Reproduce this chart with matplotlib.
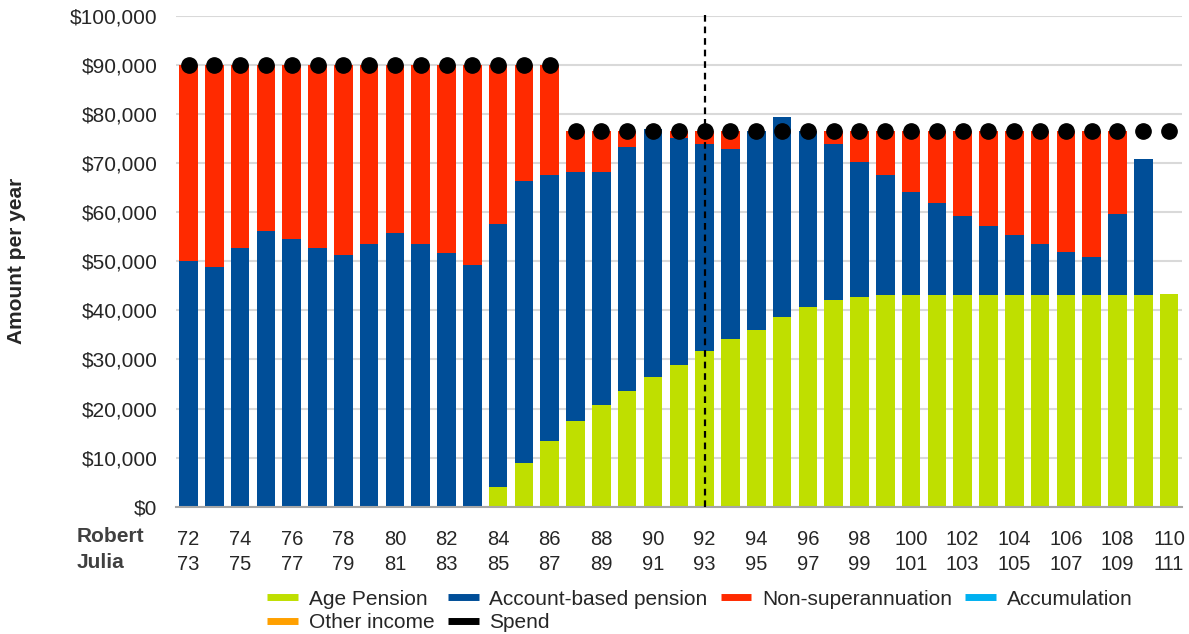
import matplotlib
matplotlib.use("Agg")
import matplotlib.pyplot as plt
from matplotlib.lines import Line2D
from matplotlib.ticker import FuncFormatter, MultipleLocator

plt.rcParams['font.family'] = ['Liberation Sans', 'DejaVu Sans']

robert_ages = list(range(72, 111))
julia_ages = [a + 1 for a in robert_ages]

age_pension = [0] * 12 + [4000, 8900, 13400, 17400, 20700, 23500, 26400, 28800,
                          31700, 34100, 36100, 38600, 40600, 42200, 42700] + [43100] * 11 + [43300]
account_based = [50000, 48800, 52800, 56100, 54500, 52800, 51200, 53600, 55700, 53600,
                 51600, 49200, 53700, 57400, 54100, 50900, 47600, 49700, 50600, 46400,
                 42300, 38700, 40500, 40900, 36000, 31800, 27600, 24400, 21100, 18700,
                 16200, 14200, 12200, 10500, 8900, 7700, 16600, 27800, 0]
non_super = [40000, 41200, 37200, 33900, 35500, 37200, 38800, 36400, 34300, 36400,
             38400, 40800, 32300, 23700, 22500, 8300, 8300, 3400, 0, 1400,
             2600, 3800, 0, 0, 0, 2600, 6300, 9100, 12400, 14800,
             17300, 19300, 21300, 23000, 24600, 25800, 16900, 0, 0]
accumulation = [0] * 39
other_income = [0] * 39
spend = [90000] * 15 + [76600] * 24
marker_age = 92

series_names = ["Age Pension", "Account-based pension", "Non-superannuation",
                "Accumulation", "Other income"]
colors = ["#BFDF00", "#004E98", "#FF2A00", "#00B0F0", "#FFA000"]

FS = 15
TXT = '#262626'

fig = plt.figure(figsize=(11.89, 6.34), dpi=100)
ax = fig.add_axes([0.1477, 0.2008, 0.8464, 0.7740])

x = list(range(len(robert_ages)))
bottom = [0] * len(x)
for vals, col in zip([age_pension, account_based, non_super, accumulation, other_income], colors):
    ax.bar(x, vals, width=0.72, bottom=bottom, color=col, zorder=2)
    bottom = [b + v for b, v in zip(bottom, vals)]

ax.plot(x, spend, linestyle='none', marker='o', markersize=11, color='black', zorder=4)

mi = robert_ages.index(marker_age)
ax.axvline(mi, ymin=0, ymax=1.005, color='black', linestyle=(0, (3, 2.2)), lw=1.6,
           zorder=5, clip_on=False)

ax.set_xlim(-0.5, len(x) - 0.5)
ax.set_ylim(0, 100000)
ax.yaxis.set_major_locator(MultipleLocator(10000))
ax.yaxis.set_major_formatter(FuncFormatter(lambda v, p: f"${v:,.0f}"))
ax.grid(axis='y', color='#D9D9D9', lw=1.5, zorder=0)
ax.set_axisbelow(True)
for s in ['top', 'right', 'left']:
    ax.spines[s].set_visible(False)
ax.spines['bottom'].set_color('#A6A6A6')
ax.spines['bottom'].set_linewidth(1.5)
ax.spines['bottom'].set_zorder(3)

tick_idx = x[::2]
ax.set_xticks(tick_idx)
ax.set_xticklabels([f"{robert_ages[i]}\n{julia_ages[i]}" for i in tick_idx],
                   linespacing=1.4)
ax.tick_params(axis='x', length=0, pad=16.5, labelsize=14.5, labelcolor=TXT)
ax.tick_params(axis='y', length=0, pad=13, labelsize=FS, labelcolor=TXT)

fig.text(77 / 1189, 1 - 536 / 634, "Robert", fontsize=FS, fontweight='bold',
         color='#404040', va='center', ha='left')
fig.text(77 / 1189, 1 - 562 / 634, "Julia", fontsize=FS, fontweight='bold',
         color='#404040', va='center', ha='left')

fig.text(17 / 1189, 1 - 261 / 634, "Amount per year", fontsize=FS, fontweight='bold',
         rotation=90, va='center', ha='center', color=TXT)

handles = {n: Line2D([0], [0], color=c, lw=5, solid_capstyle='butt')
           for n, c in zip(series_names, colors)}
handles["Spend"] = Line2D([0], [0], color='black', lw=5, solid_capstyle='butt')
order = ["Age Pension", "Other income", "Account-based pension", "Spend",
         "Non-superannuation", "Accumulation"]
fig.legend([handles[o] for o in order], order, ncol=4, frameon=False,
           loc='center', bbox_to_anchor=(700 / 1189, 1 - 611 / 634),
           fontsize=FS, handlelength=1.48, handletextpad=0.52, columnspacing=0.62,
           labelspacing=0.22, labelcolor=TXT, borderpad=0)

fig.savefig("out.png", dpi=100)
